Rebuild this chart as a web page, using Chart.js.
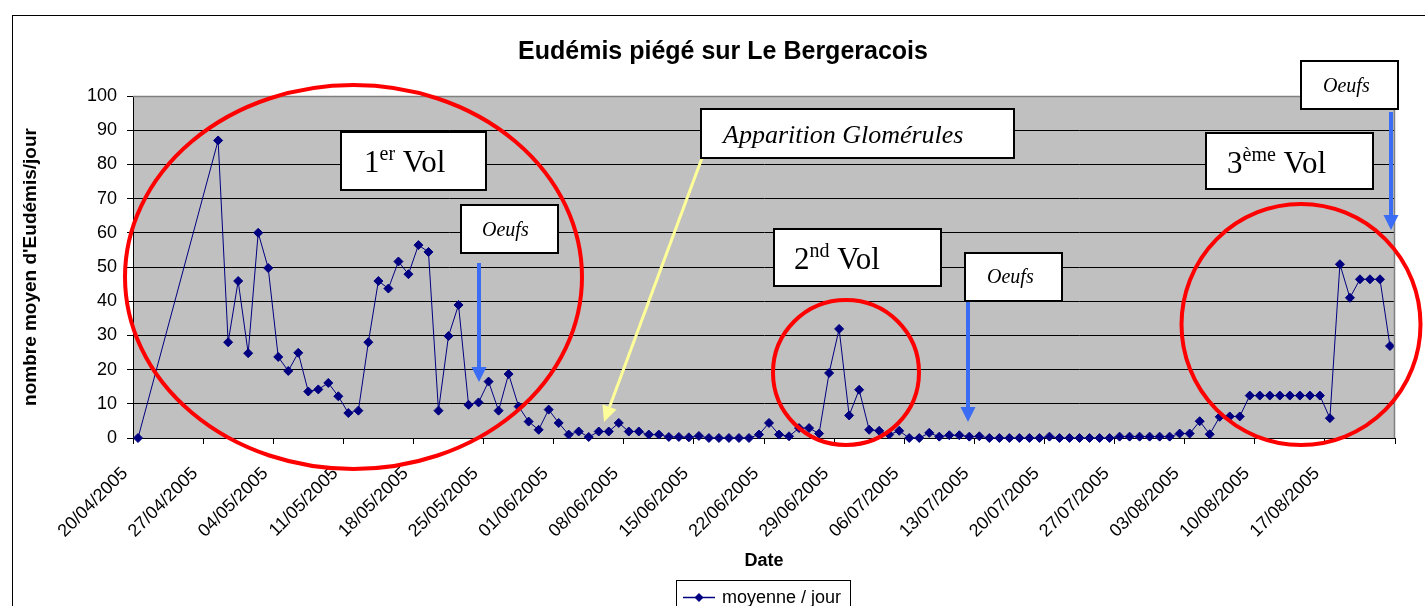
<!DOCTYPE html>
<html>
<head>
<meta charset="utf-8">
<script src="https://cdn.jsdelivr.net/npm/chart.js@4.4.1/dist/chart.umd.min.js"></script>
<style>
  html, body { margin: 0; padding: 0; background: #fff; overflow: hidden; }
  #wrap { width: 1425px; height: 606px; }
</style>
</head>
<body>
<div id="wrap"><canvas id="chart" width="1425" height="606"></canvas></div>
<script>
"use strict";

// ── Data ──────────────────────────────────────────────────────────
// day offset counted from 20/04/2005 for each trap reading
const DAY_OFFSET = [
  0, 8, 9, 10, 11, 12, 13, 14, 15, 16, 17, 18, 19, 20, 21, 22, 23, 24, 25, 26,
  27, 28, 29, 30, 31, 32, 33, 34, 35, 36, 37, 38, 39, 40, 41, 42, 43, 44, 45, 46,
  47, 48, 49, 50, 51, 52, 53, 54, 55, 56, 57, 58, 59, 60, 61, 62, 63, 64, 65, 66,
  67, 68, 69, 70, 71, 72, 73, 74, 75, 76, 77, 78, 79, 80, 81, 82, 83, 84, 85, 86,
  87, 88, 89, 90, 91, 92, 93, 94, 95, 96, 97, 98, 99, 100, 101, 102, 103, 104, 105, 106,
  107, 108, 109, 110, 111, 112, 113, 114, 115, 116, 117, 118, 119, 120, 121, 122, 123, 124, 125
];
const MOYENNE = [
  0, 87.0, 28.0, 45.9, 24.8, 60.0, 49.7, 23.7, 19.6, 24.9, 13.6, 14.2, 16.1, 12.2, 7.3, 8.0, 28.0, 45.9, 43.7, 51.6,
  47.9, 56.4, 54.4, 8.0, 29.8, 38.9, 9.7, 10.4, 16.5, 8.0, 18.7, 9.2, 4.8, 2.4, 8.3, 4.4, 1.0, 1.9, 0.3, 1.9,
  1.9, 4.4, 1.9, 1.9, 1.0, 1.0, 0.3, 0.3, 0.2, 0.6, 0, 0, 0, 0, 0, 1.0, 4.4, 1.0, 0.5, 2.9,
  2.9, 1.3, 19.0, 31.9, 6.6, 14.1, 2.4, 2.1, 1.0, 2.1, 0, 0, 1.5, 0.4, 0.8, 0.8, 0.4, 0.5, 0, 0,
  0, 0, 0, 0, 0.4, 0, 0, 0, 0, 0, 0, 0.4, 0.4, 0.4, 0.4, 0.4, 0.4, 1.3, 1.3, 4.9,
  1.1, 6.2, 6.3, 6.3, 12.4, 12.4, 12.4, 12.4, 12.4, 12.4, 12.4, 12.4, 5.8, 50.8, 41.0, 46.4, 46.4, 46.4, 26.9
];
const TICK_DAYS = [0, 7, 14, 21, 28, 35, 42, 49, 56, 63, 70, 77, 84, 91, 98, 105, 112, 119, 126];
const TICK_LABELS = [
  "20/04/2005", "27/04/2005", "04/05/2005", "11/05/2005", "18/05/2005", "25/05/2005",
  "01/06/2005", "08/06/2005", "15/06/2005", "22/06/2005", "29/06/2005", "06/07/2005",
  "13/07/2005", "20/07/2005", "27/07/2005", "03/08/2005", "10/08/2005", "17/08/2005", ""
];
const Y_TICKS = [0, 10, 20, 30, 40, 50, 60, 70, 80, 90, 100];
const TITLE = "Eudémis piégé sur Le Bergeracois";

// ── Style ─────────────────────────────────────────────────────────
const SANS  = "'Liberation Sans', Arial, sans-serif";
const SERIF = "'Liberation Serif', 'Times New Roman', serif";
const NAVY  = "#000080";
const PLOT_BG = "#c0c0c0";
const RED   = "#ff0000";
const BLUE  = "#3a6cf4";
const YELLOW = "#ffff99";

// ── Drawing helpers for the hand-drawn notes ──────────────────────
function noteBox(ctx, x1, y1, x2, y2) {
  ctx.fillStyle = "#fff";
  ctx.fillRect(x1, y1, x2 - x1, y2 - y1);
  ctx.lineWidth = 2;
  ctx.strokeStyle = "#000";
  ctx.strokeRect(x1, y1, x2 - x1, y2 - y1);
}

function richText(ctx, x, y, parts) {
  ctx.fillStyle = "#000";
  ctx.textBaseline = "alphabetic";
  ctx.textAlign = "left";
  parts.forEach(p => {
    ctx.font = `${p.italic ? "italic " : ""}${p.size}px ${SERIF}`;
    ctx.fillText(p.t, x, y - (p.rise || 0));
    x += ctx.measureText(p.t).width;
  });
}

function arrow(ctx, x1, y1, x2, y2, color, width, headLen, headW) {
  const a = Math.atan2(y2 - y1, x2 - x1);
  const bx = x2 - Math.cos(a) * headLen, by = y2 - Math.sin(a) * headLen;
  ctx.strokeStyle = color;
  ctx.lineWidth = width;
  ctx.beginPath(); ctx.moveTo(x1, y1); ctx.lineTo(bx, by); ctx.stroke();
  ctx.fillStyle = color;
  ctx.beginPath();
  ctx.moveTo(x2, y2);
  ctx.lineTo(bx + Math.sin(a) * headW / 2, by - Math.cos(a) * headW / 2);
  ctx.lineTo(bx - Math.sin(a) * headW / 2, by + Math.cos(a) * headW / 2);
  ctx.closePath(); ctx.fill();
}

function ring(ctx, cx, cy, rx, ry) {
  ctx.strokeStyle = RED;
  ctx.lineWidth = 4;
  ctx.beginPath(); ctx.ellipse(cx, cy, rx, ry, 0, 0, Math.PI * 2); ctx.stroke();
}

// ── Plugins ───────────────────────────────────────────────────────
const plotBackground = {
  id: "plotBackground",
  beforeDraw(chart) {
    const { ctx, chartArea: a } = chart;
    ctx.save();
    ctx.fillStyle = PLOT_BG;
    ctx.fillRect(a.left, a.top, a.right - a.left, a.bottom - a.top);
    ctx.restore();
  },
  afterDatasetsDraw(chart) {
    const { ctx, chartArea: a } = chart;
    ctx.save();
    ctx.strokeStyle = "#808080";
    ctx.lineWidth = 1.5;
    ctx.beginPath();
    ctx.moveTo(a.left, a.top + 0.5); ctx.lineTo(a.right - 0.5, a.top + 0.5); ctx.lineTo(a.right - 0.5, a.bottom);
    ctx.stroke();
    ctx.restore();
  }
};

const notes = {
  id: "notes",
  afterDraw(chart) {
    const ctx = chart.ctx;
    ctx.save();

    // outer frame of the chart object
    ctx.strokeStyle = "#000";
    ctx.lineWidth = 1;
    ctx.strokeRect(12.5, 15.5, 1430, 620);

    // chart title
    ctx.fillStyle = "#000";
    ctx.font = `bold 25px ${SANS}`;
    ctx.textAlign = "center";
    ctx.textBaseline = "alphabetic";
    ctx.fillText(TITLE, 723, 59);

    // flights circled in red
    ring(ctx, 353.5, 277, 228.5, 192);
    ring(ctx, 846, 372.5, 73, 72.5);
    ring(ctx, 1301, 324.5, 119.5, 120.5);

    // yellow pointer for glomérules
    arrow(ctx, 702, 158, 604, 422, YELLOW, 3, 16, 15);

    // egg-laying arrows
    arrow(ctx, 479, 263, 479, 382, BLUE, 4, 15, 15);
    arrow(ctx, 968, 302, 968, 422, BLUE, 4, 15, 15);
    arrow(ctx, 1391, 112, 1391, 230, BLUE, 4, 15, 15);

    // labels
    noteBox(ctx, 341, 132, 486, 190);
    richText(ctx, 364, 172, [{ t: "1", size: 31 }, { t: "er", size: 20, rise: 12 }, { t: " Vol", size: 31 }]);

    noteBox(ctx, 701, 109, 1014, 158);
    richText(ctx, 723, 143, [{ t: "Apparition Glomérules", size: 26, italic: true }]);

    noteBox(ctx, 774, 229, 941, 286);
    richText(ctx, 794, 269, [{ t: "2", size: 31 }, { t: "nd", size: 20, rise: 12 }, { t: " Vol", size: 31 }]);

    noteBox(ctx, 1206, 133, 1373, 189);
    richText(ctx, 1227, 173, [{ t: "3", size: 31 }, { t: "ème", size: 20, rise: 12 }, { t: " Vol", size: 31 }]);

    noteBox(ctx, 461, 205, 558, 253);
    richText(ctx, 482, 236, [{ t: "Oeufs", size: 20, italic: true }]);
    noteBox(ctx, 965, 253, 1062, 301);
    richText(ctx, 987, 283, [{ t: "Oeufs", size: 20, italic: true }]);
    noteBox(ctx, 1301, 61, 1398, 109);
    richText(ctx, 1323, 92, [{ t: "Oeufs", size: 20, italic: true }]);

    // legend
    const ds = chart.data.datasets[0];
    ctx.fillStyle = "#fff";
    ctx.fillRect(677, 581, 173, 40);
    ctx.strokeStyle = "#000";
    ctx.lineWidth = 1;
    ctx.strokeRect(676.5, 580.5, 174, 40);
    ctx.strokeStyle = ds.borderColor;
    ctx.lineWidth = 1.5;
    ctx.beginPath(); ctx.moveTo(683, 597.5); ctx.lineTo(715, 597.5); ctx.stroke();
    ctx.fillStyle = ds.pointBackgroundColor;
    ctx.beginPath();
    ctx.moveTo(699, 593); ctx.lineTo(703.5, 597.5); ctx.lineTo(699, 602); ctx.lineTo(694.5, 597.5);
    ctx.closePath(); ctx.fill();
    ctx.fillStyle = "#000";
    ctx.font = `18px ${SANS}`;
    ctx.textAlign = "left";
    ctx.fillText(ds.label, 722, 603);

    ctx.restore();
  }
};

// ── Chart ─────────────────────────────────────────────────────────
Chart.defaults.font.family = SANS;
Chart.defaults.color = "#000";

new Chart(document.getElementById("chart"), {
  type: "line",
  data: {
    datasets: [{
      label: "moyenne / jour",
      data: DAY_OFFSET.map((d, i) => ({ x: d + 0.5, y: MOYENNE[i] })),
      borderColor: NAVY,
      borderWidth: 1,
      pointStyle: "rectRot",
      pointRadius: 4.5,
      pointBackgroundColor: NAVY,
      pointBorderColor: NAVY,
      pointBorderWidth: 1,
      tension: 0,
      clip: false
    }]
  },
  options: {
    responsive: false,
    animation: false,
    layout: { padding: { left: 0, right: 30, top: 96, bottom: 0 } },
    plugins: {
      legend: { display: false },
      tooltip: { enabled: false },
      title: { display: false }
    },
    scales: {
      x: {
        type: "linear",
        min: 0, max: 126,
        afterBuildTicks: s => { s.ticks = TICK_DAYS.map(v => ({ value: v })); },
        afterFit: s => { s.height = 168; s.paddingLeft = 0; s.paddingRight = 0; },
        ticks: {
          autoSkip: false,
          maxRotation: 45, minRotation: 45,
          padding: 19,
          labelOffset: -8,
          font: { size: 18 },
          color: "#000",
          callback: (v, i) => TICK_LABELS[i]
        },
        grid: { drawOnChartArea: false, drawTicks: true, tickLength: 6, color: "#000" },
        border: { color: "#000", width: 1 },
        title: {
          display: true, text: "Date", color: "#000",
          font: { size: 18, weight: "bold" },
          padding: { top: 0, bottom: 34 }
        }
      },
      y: {
        min: 0, max: 100,
        afterBuildTicks: s => { s.ticks = Y_TICKS.map(v => ({ value: v })); },
        afterFit: s => { s.width = 133; },
        ticks: { font: { size: 18 }, color: "#000", padding: 10 },
        grid: {
          color: c => (c.tick && c.tick.value === 100 ? "#808080" : "#000"),
          tickColor: "#000",
          tickLength: 6,
          lineWidth: 1
        },
        border: { color: "#000", width: 1 },
        title: {
          display: true, text: "nombre moyen d'Eudémis/jour", color: "#000",
          font: { size: 19, weight: "bold" },
          padding: { top: 19, bottom: 0 }
        }
      }
    }
  },
  plugins: [plotBackground, notes]
});
</script>
</body>
</html>
